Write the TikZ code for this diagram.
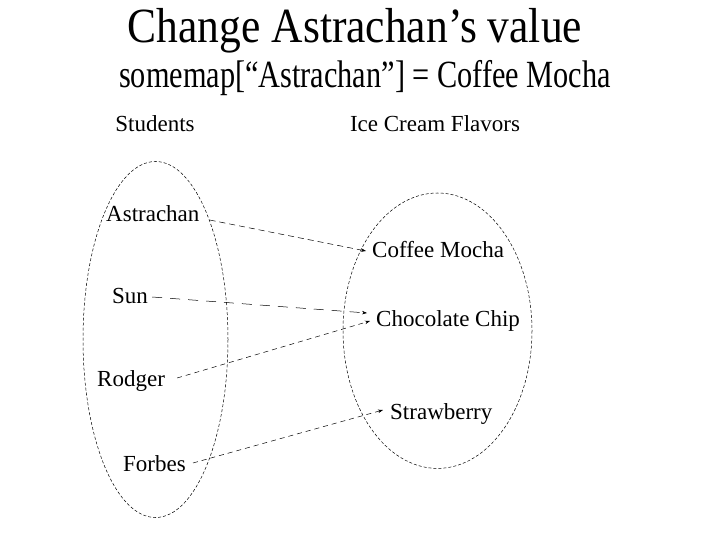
\documentclass[tikz,border=0pt]{standalone}
\usepackage{fontspec}
\setmainfont{Liberation Serif}
\usetikzlibrary{arrows.meta}
\begin{document}
\begin{tikzpicture}[x=1pt,y=-1pt,
  lbl/.style={inner sep=0pt,anchor=base west,font=\fontsize{23}{27}\selectfont},
  hdr/.style={inner sep=0pt,anchor=base,font=\fontsize{23}{27}\selectfont},
  setline/.style={line width=0.5pt,dash pattern=on 3pt off 2pt},
  maparrow/.style={line width=0.5pt,-{Stealth[length=5pt,width=3.5pt]}}]
\useasboundingbox (0,0) rectangle (720,540);
\fill[white] (0,0) rectangle (720,540);
% titles
\node[inner sep=0pt,anchor=base] (t1) at (355,43) {\fontsize{43.5}{48}\selectfont\scalebox{1}[1.13]{Change Astrachan’s value}};
\node[inner sep=0pt,anchor=base] (t2) at (365,88) {\fontsize{30.3}{34}\selectfont\scalebox{1}[1.27]{somemap[“Astrachan”] = Coffee Mocha}};
% headers
\node[hdr] (stud) at (155,132) {Students};
\node[hdr] (ice) at (435,132) {Ice Cream Flavors};
% sets
\draw[setline] (155.5,339.5) ellipse [x radius=72.5, y radius=178];
\draw[setline] (437.5,330.7) ellipse [x radius=94.5, y radius=137.7];
% students
\node[lbl] (astr) at (106,222) {Astrachan};
\node[lbl] (sun) at (112,303) {Sun};
\node[lbl] (rod) at (97,386) {Rodger};
\node[lbl] (forb) at (123,471) {Forbes};
% flavors
\node[lbl] (cm) at (372,258) {Coffee Mocha};
\node[lbl] (cc) at (376,326) {Chocolate Chip};
\node[lbl] (sb) at (390,419) {Strawberry};
% mappings
\draw[maparrow,dash pattern=on 6pt off 4pt] ([xshift=10pt,yshift=2pt]astr.base east) -- ([xshift=-6pt,yshift=7pt]cm.base west);
\draw[maparrow,dash pattern=on 10pt off 8pt] ([xshift=4pt,yshift=6pt]sun.base east) -- ([xshift=-9pt,yshift=13pt]cc.base west);
\draw[maparrow,dash pattern=on 5pt off 4pt] ([xshift=12pt,yshift=8pt]rod.base east) -- ([xshift=-6pt,yshift=5pt]cc.base west);
\draw[maparrow,dash pattern=on 5pt off 4pt] ([xshift=7pt,yshift=8pt]forb.base east) -- ([xshift=-7pt,yshift=9pt]sb.base west);
\end{tikzpicture}
\end{document}
